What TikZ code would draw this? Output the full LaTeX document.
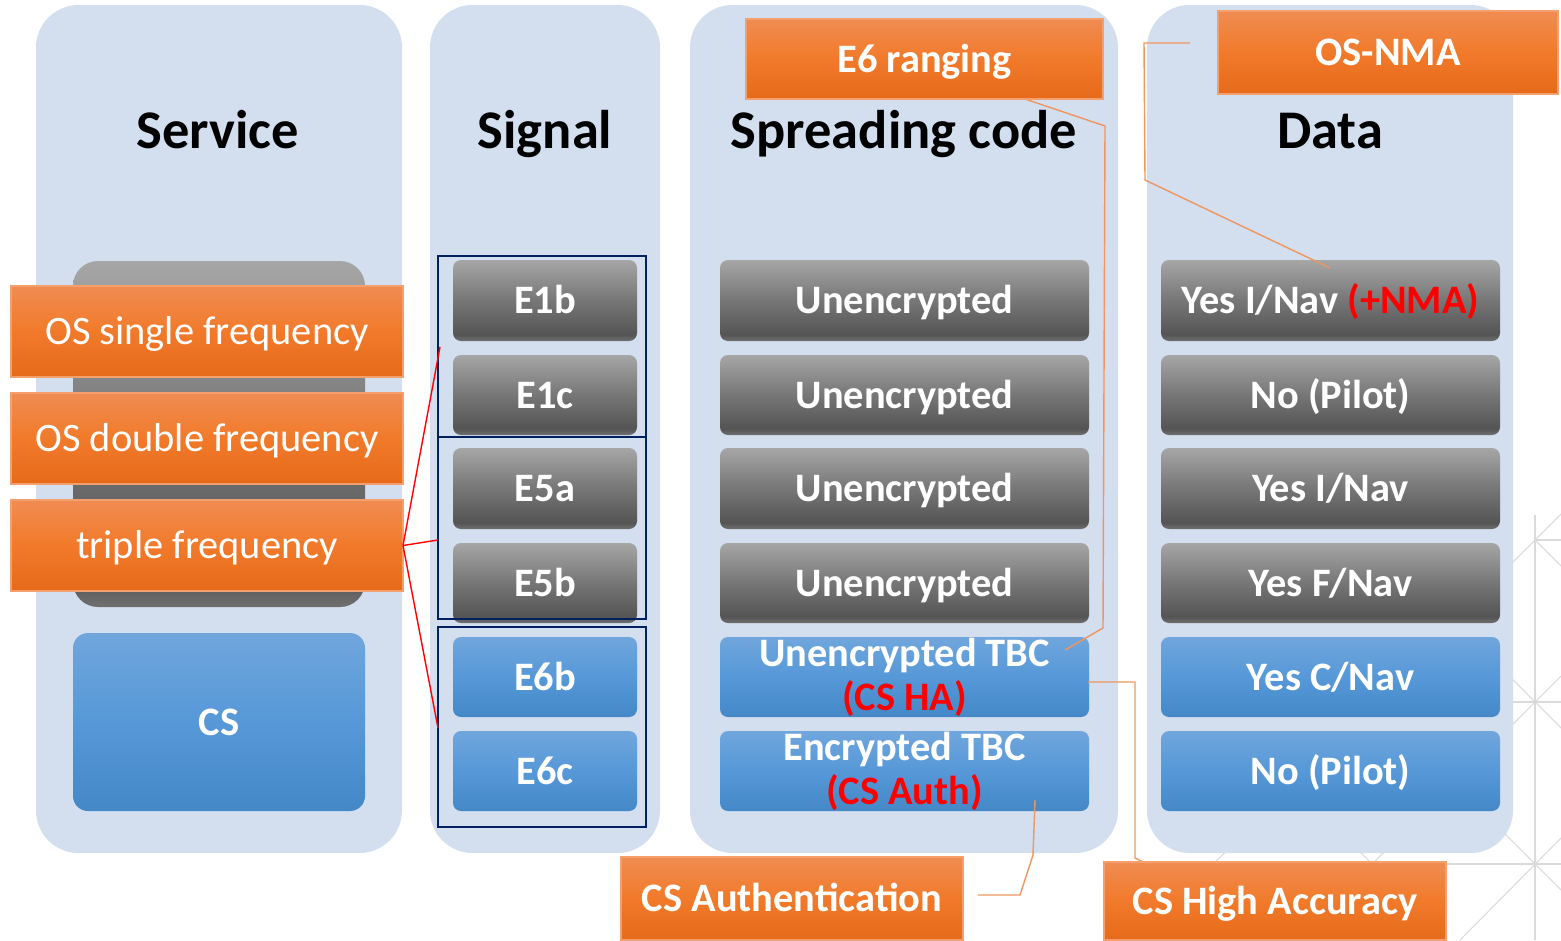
\documentclass[tikz,border=0pt]{standalone}
\usepackage{fontspec}
\setmainfont{Carlito}
\usetikzlibrary{calc}
\definecolor{panelc}{RGB}{211,222,239}
\definecolor{gt}{RGB}{166,166,166}
\definecolor{gm}{RGB}{118,118,118}
\definecolor{gd}{RGB}{84,84,84}
\definecolor{gb}{RGB}{112,112,112}
\definecolor{bt}{RGB}{112,166,220}
\definecolor{bm}{RGB}{86,152,216}
\definecolor{bd}{RGB}{68,136,200}
\definecolor{ot}{RGB}{240,140,82}
\definecolor{om}{RGB}{241,122,42}
\definecolor{od}{RGB}{230,106,26}
\definecolor{oborder}{RGB}{244,160,110}
\definecolor{navyc}{RGB}{0,32,96}
\definecolor{olinec}{RGB}{238,150,95}
\definecolor{latc}{RGB}{218,218,218}
\definecolor{redc}{RGB}{255,0,0}
\pgfdeclareverticalshading{gshade}{100bp}{color(0bp)=(gb); color(25bp)=(gb); color(29bp)=(gd); color(50bp)=(gm); color(75bp)=(gt); color(100bp)=(gt)}
\pgfdeclareverticalshading{bshade}{100bp}{color(0bp)=(bd); color(25bp)=(bd); color(50bp)=(bm); color(75bp)=(bt); color(100bp)=(bt)}
\pgfdeclareverticalshading{oshade}{100bp}{color(0bp)=(od); color(25bp)=(od); color(50bp)=(om); color(75bp)=(ot); color(100bp)=(ot)}
\begin{document}
\begin{tikzpicture}[x=0.02cm,y=-0.02cm,
  sz/.style 2 args={minimum width=#1*0.02cm, minimum height=#2*0.02cm},
  base/.style={inner sep=0pt, outer sep=0pt, anchor=north west},
  capc/.style={text height=14.8pt, text depth=0pt},
  boxfont/.style={font=\bfseries\fontsize{23}{25}\selectfont},
  panel/.style={base, fill=panelc, rounded corners=0.85cm},
  title/.style={text height=20pt, text depth=0pt, inner sep=0pt, font=\bfseries\fontsize{31}{37}\selectfont, text=black},
  gbox/.style={base, shading=gshade, rounded corners=0.16cm, text=white, boxfont, capc},
  bbox/.style={base, shading=bshade, rounded corners=0.16cm, text=white, boxfont, capc},
  bbox2/.style={base, shading=bshade, rounded corners=0.16cm, text=white, boxfont, align=center},
  olab/.style={base, shading=oshade, draw=oborder, line width=0.6pt, text=white, capc},
  olabr/.style={olab, font=\fontsize{23}{27}\selectfont},
  olabb/.style={olab, boxfont},
  frame/.style={base, draw=navyc, line width=1.2pt},
  redl/.style={draw=redc, line width=0.8pt},
  oline/.style={draw=olinec, line width=0.8pt},
  lat/.style={draw=latc, line width=0.6pt}
]
\useasboundingbox (0,0) rectangle (1561,940);
% faint background lattice
\draw[lat] (1535,515) -- (1535,940);
\draw[lat] (1535,540) -- (1561,540);
\draw[lat] (1505,702) -- (1561,702);
\draw[lat] (1240,864) -- (1561,864);
\draw[lat] (1505,570) -- (1561,514);
\draw[lat] (1535,540) -- (1561,566);
\draw[lat] (1505,672) -- (1561,728);
\draw[lat] (1505,732) -- (1561,676);
\draw[lat] (1460,940) -- (1561,838);
\draw[lat] (1500,829) -- (1561,890);
\draw[lat] (1350,842) -- (1372,864) -- (1394,842);
\draw[lat] (1196,880) -- (1232,846);
% panels
\node[panel, sz={366}{848}] (pSvc) at (36,5) {};
\node[panel, sz={230}{848}] (pSig) at (430,5) {};
\node[panel, sz={428}{848}] (pSpr) at (690,5) {};
\node[panel, sz={366}{848}] (pDat) at (1147,5) {};
% titles
\node[title] (tSvc) at (218,131) {Service};
\node[title] (tSig) at (545,131) {Signal};
\node[title] (tSpr) at (904,131) {Spreading code};
\node[title] (tDat) at (1330,131) {Data};
% service boxes
\node[gbox, rounded corners=0.5cm, sz={292}{346}] (svcgray) at (73,261) {};
\node[bbox, rounded corners=0.3cm, sz={292}{178}] (cs) at (73,633) {CS};
% signal boxes
\node[gbox, sz={184}{81}] (e1b) at (453,260) {E1b};
\node[gbox, sz={184}{80}] (e1c) at (453,355) {E1c};
\node[gbox, sz={184}{81}] (e5a) at (453,448) {E5a};
\node[gbox, sz={184}{80}] (e5b) at (453,543) {E5b};
\node[bbox, sz={184}{80}] (e6b) at (453,637) {E6b};
\node[bbox, sz={184}{80}] (e6c) at (453,731) {E6c};
% spreading code boxes
\node[gbox, sz={369}{81}] (s1) at (720,260) {Unencrypted};
\node[gbox, sz={369}{80}] (s2) at (720,355) {Unencrypted};
\node[gbox, sz={369}{81}] (s3) at (720,448) {Unencrypted};
\node[gbox, sz={369}{80}] (s4) at (720,543) {Unencrypted};
\node[bbox2, sz={369}{80}] (s5) at (720,637) {Unencrypted TBC\\\textcolor{redc}{(CS HA)}};
\node[bbox2, sz={369}{80}] (s6) at (720,731) {Encrypted TBC\\\textcolor{redc}{(CS Auth)}};
% data boxes
\node[gbox, sz={339}{81}] (d1) at (1161,260) {Yes I/Nav \textcolor{redc}{(+NMA)}};
\node[gbox, sz={339}{80}] (d2) at (1161,355) {No (Pilot)};
\node[gbox, sz={339}{81}] (d3) at (1161,448) {Yes I/Nav};
\node[gbox, sz={339}{80}] (d4) at (1161,543) {Yes F/Nav};
\node[bbox, sz={339}{80}] (d5) at (1161,637) {Yes C/Nav};
\node[bbox, sz={339}{80}] (d6) at (1161,731) {No (Pilot)};
% navy frames
\node[frame, sz={208}{181}] (f1) at (438,256) {};
\node[frame, sz={208}{182}] (f2) at (438,437) {};
\node[frame, sz={208}{200}] (f3) at (438,627) {};
% orange labels on service column
\node[olabr, sz={392}{91}] (osf) at (11,286) {OS single frequency};
\node[olabr, sz={392}{91}] (odf) at (11,393) {OS double frequency};
\node[olabr, sz={392}{91}] (tf) at (11,500) {triple frequency};
% red connectors
\coordinate (rA) at (440,347);
\coordinate (rB) at (438,540);
\coordinate (rC) at (438,728);
\draw[redl] (tf.east) -- (rA);
\draw[redl] (tf.east) -- (rB);
\draw[redl] (tf.east) -- (rC);
% orange connectors
\coordinate (e6s) at (1025,99);
\coordinate (e6k1) at (1105,126);
\coordinate (e6k2) at (1103,628);
\coordinate (e6e) at (1065,650);
\draw[oline] (e6s) -- (e6k1) -- (e6k2) -- (e6e);
\coordinate (nmS) at (1190,43);
\coordinate (nmK1) at (1144,43);
\coordinate (nmK2) at (1145,180);
\coordinate (nmE) at (1330,268);
\draw[oline] (nmS) -- (nmK1) -- (nmK2) -- (nmE);
\coordinate (haS) at (1088,682);
\coordinate (haK1) at (1135,682);
\coordinate (haK2) at (1135,858);
\coordinate (haE) at (1180,880);
\draw[oline] (haS) -- (haK1) -- (haK2) -- (haE);
\coordinate (auS) at (1035,800);
\coordinate (auK1) at (1033,855);
\coordinate (auK2) at (1020,895);
\coordinate (auE) at (978,895);
\draw[oline] (auS) -- (auK1) -- (auK2) -- (auE);
% orange labels top and bottom
\node[olabb, sz={357}{80}] (e6r) at (746,19) {E6 ranging};
\node[olabb, sz={340}{83}] (osnma) at (1218,11) {OS-NMA};
\node[olabb, sz={342}{83}] (csauth) at (621,857) {CS Authentication};
\node[olabb, sz={342}{78}] (csha) at (1104,862) {CS High Accuracy};
\end{tikzpicture}
\end{document}
